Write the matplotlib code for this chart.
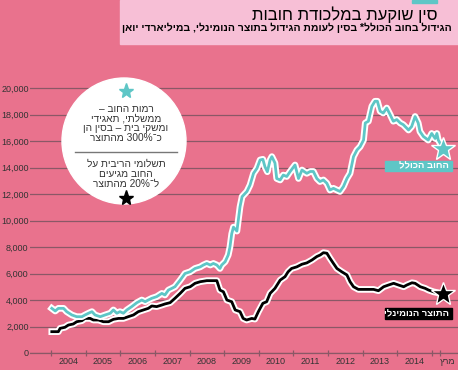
import re
import matplotlib
matplotlib.use("Agg")
import matplotlib.pyplot as plt
import matplotlib.patheffects as pe
from matplotlib.patches import Rectangle, Ellipse
from matplotlib.lines import Line2D

plt.rcParams["font.family"] = ["Liberation Sans", "DejaVu Sans"]

# total debt, billion yuan
debt_years = [2004.02, 2004.12, 2004.21, 2004.36, 2004.45, 2004.60, 2004.74, 2004.89, 2004.98,
              2005.08, 2005.18, 2005.27, 2005.42, 2005.56, 2005.71, 2005.80, 2005.90, 2005.99,
              2006.09, 2006.19, 2006.33, 2006.48, 2006.62, 2006.72, 2006.81, 2006.91,
              2007.05, 2007.20, 2007.29, 2007.39, 2007.49, 2007.58, 2007.73, 2007.87,
              2008.02, 2008.16, 2008.31, 2008.40, 2008.50, 2008.60, 2008.69, 2008.79, 2008.88, 2008.93,
              2009.03, 2009.12, 2009.17, 2009.22, 2009.27, 2009.37, 2009.46, 2009.52, 2009.66, 2009.75,
              2009.85, 2009.95, 2010.04, 2010.12, 2010.18, 2010.25, 2010.33, 2010.38, 2010.47, 2010.52,
              2010.62, 2010.71, 2010.81, 2010.91, 2011.05, 2011.15, 2011.25, 2011.39, 2011.49, 2011.58,
              2011.68, 2011.77, 2011.87, 2011.97, 2012.06, 2012.16, 2012.26, 2012.35, 2012.45, 2012.55,
              2012.64, 2012.74, 2012.84, 2012.93, 2013.03, 2013.08, 2013.17, 2013.27, 2013.36, 2013.43,
              2013.51, 2013.60, 2013.70, 2013.80, 2013.89, 2013.99, 2014.09, 2014.18, 2014.33, 2014.42,
              2014.52, 2014.61, 2014.66, 2014.76, 2014.90, 2015.00, 2015.10, 2015.15, 2015.19, 2015.34]
debt_values = [3370, 3170, 3370, 3370, 3120, 2870, 2740, 2740, 2870,
               3000, 3120, 2870, 2740, 2870, 3000, 3250, 3000, 3120,
               3000, 3250, 3500, 3800, 4000, 3870, 4000, 4130,
               4250, 4500, 4380, 4750, 4880, 5000, 5500, 6000,
               6130, 6380, 6500, 6640, 6760, 6640, 6760, 6640, 6380, 6640,
               6890, 7400, 8020, 9000, 9500, 9200, 11040, 11800, 12190, 12680,
               13560, 13940, 14570, 14620, 14060, 13680, 14570, 14820, 14340, 13170,
               13060, 13430, 13320, 13700, 14190, 13170, 13810, 13560, 13700, 13700,
               13170, 12940, 13060, 12810, 12300, 12430, 12300, 12190, 12570, 13170,
               13560, 14820, 15320, 15570, 16070, 17360, 17490, 18620, 19000, 19000,
               18250, 18110, 18490, 17980, 17490, 17620, 17360, 17230, 16830, 17090,
               17850, 17360, 16720, 16340, 16070, 16570, 16190, 16570, 16070, 15400]

# nominal GDP, billion yuan
gdp_years = [2004.02, 2004.21, 2004.26, 2004.40, 2004.50, 2004.64, 2004.74, 2004.89, 2004.98,
             2005.13, 2005.22, 2005.37, 2005.51, 2005.66, 2005.80, 2005.95, 2006.09, 2006.23,
             2006.38, 2006.52, 2006.67, 2006.81, 2006.91, 2007.05, 2007.20, 2007.29, 2007.44,
             2007.58, 2007.73, 2007.87, 2008.02, 2008.16, 2008.31, 2008.50, 2008.79, 2008.88,
             2008.98, 2009.08, 2009.22, 2009.32, 2009.46, 2009.55, 2009.65, 2009.80, 2009.89,
             2009.99, 2010.12, 2010.23, 2010.33, 2010.47, 2010.62, 2010.76, 2010.85, 2010.95,
             2011.10, 2011.25, 2011.39, 2011.54, 2011.68, 2011.78, 2011.87, 2011.97, 2012.06,
             2012.16, 2012.26, 2012.40, 2012.55, 2012.64, 2012.74, 2012.88, 2013.03, 2013.17,
             2013.32, 2013.46, 2013.61, 2013.75, 2013.90, 2014.04, 2014.19, 2014.28, 2014.43,
             2014.52, 2014.67, 2014.81, 2014.91, 2015.05, 2015.34]
gdp_values = [1610, 1610, 1860, 1940, 2110, 2190, 2360, 2440, 2610,
              2610, 2490, 2490, 2360, 2360, 2540, 2610, 2610, 2740,
              2870, 3120, 3250, 3370, 3550, 3500, 3620, 3700, 3800,
              4130, 4500, 4880, 5000, 5260, 5380, 5460, 5460, 4750,
              4620, 4000, 3870, 3250, 3120, 2610, 2490, 2610, 2560,
              3120, 3750, 3870, 4500, 4880, 5500, 5760, 6130, 6380,
              6500, 6700, 6800, 7020, 7280, 7400, 7570, 7530, 7150,
              6760, 6380, 6130, 5890, 5380, 5000, 4800, 4800, 4800,
              4800, 4700, 5000, 5130, 5260, 5130, 5000, 5130, 5300,
              5260, 5000, 4880, 4750, 4620, 4450]

year_ticks = [2004, 2005, 2006, 2007, 2008, 2009, 2010, 2011, 2012, 2013, 2014, 2015, 2015.25]
year_labels = ["2004", "2005", "2006", "2007", "2008", "2009", "2010", "2011", "2012", "2013", "2014", "מרץ"]
year_label_pos = [2004.5, 2005.5, 2006.5, 2007.5, 2008.5, 2009.5, 2010.5, 2011.5,
                  2012.5, 2013.5, 2014.5, 2015.45]
y_ticks = [0, 2000, 4000, 6000, 8000, 10000, 12000, 14000, 16000, 18000, 20000]

title = "סין שוקעת במלכודת חובות"
subtitle = "הגידול בחוב הכולל* בסין לעומת הגידול בתוצר הנומינלי, במיליארדי יואן"
note_top = ["רמות החוב –", "ממשלתי, תאגידי", "ומשקי בית – בסין הן", "כ־300% מהתוצר"]
note_bottom = ["תשלומי הריבית על", "החוב מגיעים", "ל־20% מהתוצר"]
debt_label = "החוב הכולל"
gdp_label = "התוצר הנומינלי"

BG = "#e9728d"
BOX = "#f7bfd6"
TEAL = "#5ec6c6"
GRID = "#8a5866"
W, H = 458, 370


def rtl(s):
    # visual order for hebrew, numbers kept left to right
    return re.sub(r"[0-9%]+", lambda m: m.group(0)[::-1], s[::-1])


def fx(px):
    return px / W


def fy(py):
    return 1 - py / H


fig = plt.figure(figsize=(W / 100, H / 100), dpi=100)
fig.patch.set_facecolor(BG)

ax = fig.add_axes([fx(30), 17 / H, 428 / W, 291.5 / H])
ax.set_facecolor("none")
ax.set_xlim(2003.39, 2015.76)
ax.set_ylim(0, 22000)

ax.set_yticks(y_ticks)
ax.set_yticklabels([f"{v:,}" for v in y_ticks])
ax.yaxis.grid(True, color=GRID, lw=0.9)
ax.tick_params(axis="y", length=0, pad=1, labelsize=6.5, labelcolor="#333333")

ax.set_xticks(year_ticks)
ax.set_xticklabels([])
ax.set_xticks(year_label_pos, minor=True)
ax.set_xticklabels([rtl(l) for l in year_labels], minor=True)
ax.tick_params(axis="x", which="major", direction="inout", length=5, color=GRID, width=0.9)
ax.tick_params(axis="x", which="minor", length=0, pad=3, labelsize=6.5, labelcolor="#333333")
for side in ["top", "right", "left"]:
    ax.spines[side].set_visible(False)
ax.spines["bottom"].set_color(GRID)
ax.spines["bottom"].set_linewidth(0.9)
ax.set_axisbelow(True)

halo = [pe.Stroke(linewidth=4.8, foreground="white"), pe.Normal()]
ax.plot(gdp_years, gdp_values, color="black", lw=2, path_effects=halo, zorder=4)
ax.plot(debt_years, debt_values, color=TEAL, lw=2, path_effects=halo, zorder=5)
ax.plot(debt_years[-1], debt_values[-1], marker="*", ms=18, color=TEAL, mec="white", mew=1, zorder=6)
ax.plot(gdp_years[-1], gdp_values[-1], marker="*", ms=18, color="black", mec="white", mew=1, zorder=6)

# series labels
fig.add_artist(Rectangle((fx(385), fy(171)), 67 / W, 10 / H, transform=fig.transFigure,
                         color=TEAL, zorder=7))
fig.text(fx(449), fy(166), rtl(debt_label), ha="right", va="center", fontsize=6.8,
         color="white", weight="bold", zorder=8)
fig.add_artist(Rectangle((fx(385), fy(319)), 67 / W, 11 / H, transform=fig.transFigure,
                         color="black", zorder=7))
fig.text(fx(449), fy(313.5), rtl(gdp_label), ha="right", va="center", fontsize=6.8,
         color="white", weight="bold", zorder=8)

# title box
fig.add_artist(Rectangle((fx(120), fy(44)), 338 / W, 44 / H, transform=fig.transFigure,
                         color=BOX, zorder=2))
fig.add_artist(Rectangle((fx(412), fy(3)), 25 / W, 3 / H, transform=fig.transFigure,
                         color=TEAL, zorder=3))
fig.text(fx(437), fy(15), rtl(title), ha="right", va="center", fontsize=12, zorder=4)
fig.text(fx(452), fy(28), rtl(subtitle), ha="right", va="center", fontsize=7.5,
         weight="bold", zorder=4)

# note circle
fig.add_artist(Ellipse((fx(124), fy(141)), 124 / W, 126 / H, transform=fig.transFigure,
                       color="white", zorder=3))
fig.add_artist(Line2D([fx(126)], [fy(91)], marker="*", ms=11, color=TEAL,
                      transform=fig.transFigure, zorder=4))
for i, line in enumerate(note_top):
    fig.text(fx(126), fy(109 + 9.7 * i), rtl(line), ha="center", va="center",
             fontsize=7.3, color="#333333", zorder=4)
fig.add_artist(Line2D([fx(75), fx(177)], [fy(152), fy(152)], color="#777777", lw=1,
                      transform=fig.transFigure, zorder=4))
for i, line in enumerate(note_bottom):
    fig.text(fx(126), fy(164 + 9.7 * i), rtl(line), ha="center", va="center",
             fontsize=7.3, color="#333333", zorder=4)
fig.add_artist(Line2D([fx(126)], [fy(198)], marker="*", ms=11, color="black",
                      transform=fig.transFigure, zorder=4))

fig.savefig("out.png", dpi=100, facecolor=BG)
